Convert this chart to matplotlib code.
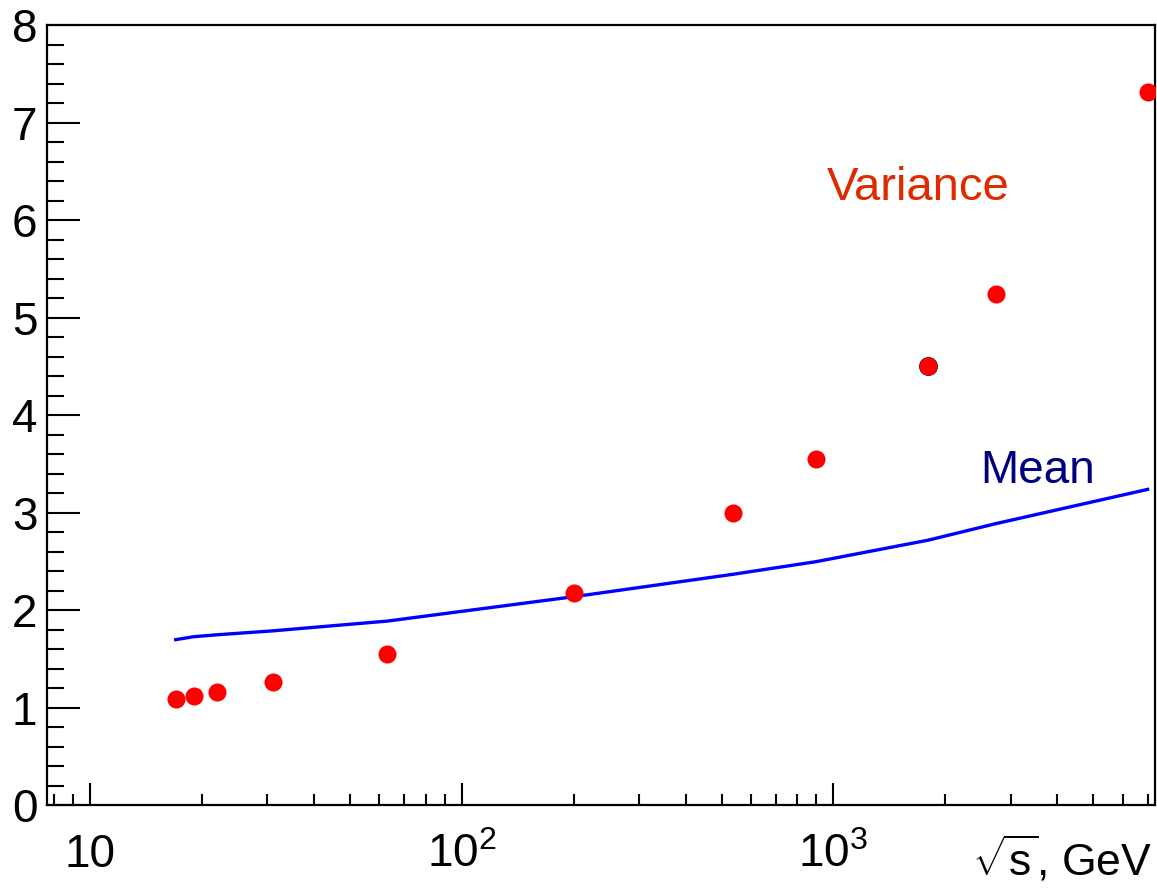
import matplotlib
matplotlib.use("Agg")
import matplotlib.pyplot as plt
import matplotlib.ticker as ticker
import numpy as np

plt.rcParams['font.family'] = ['Liberation Sans', 'DejaVu Sans']
plt.rcParams['mathtext.fontset'] = 'custom'
plt.rcParams['mathtext.rm'] = 'Liberation Sans'
plt.rcParams['mathtext.it'] = 'Liberation Sans'

# sqrt(s) in GeV
energy = [17.0, 19.0, 22.0, 31.0, 63.0, 200.0, 537.0, 900.0, 1800.0, 2740.0, 7000.0]
variance = [1.09, 1.12, 1.16, 1.27, 1.55, 2.18, 3.00, 3.55, 4.50, 5.24, 7.31]
mean = [1.70, 1.73, 1.75, 1.79, 1.89, 2.14, 2.37, 2.50, 2.72, 2.89, 3.24]

# extra dark point hidden under the 1.8 TeV marker
black_x = [1792.0]
black_y = [4.51]

x_ticks = [10, 100, 1000]
x_ticklabels = ['10', r'$\mathregular{10^{2}}$', r'$\mathregular{10^{3}}$']

fig = plt.figure(figsize=(11.57, 8.94), dpi=100)
ax = fig.add_axes([0.0406, 0.099, 0.9577, 0.873])

ax.plot(energy, mean, color='#0000ff', lw=2.4, zorder=2)
ax.plot(black_x, black_y, 'o', color='black', ms=12.5, zorder=3)
ax.plot(energy, variance, 'o', color='#ff0000', ms=13, mec='none', zorder=4)

ax.set_xscale('log')
ax.set_xlim(7.66, 7330)
ax.set_ylim(0, 8)

ax.xaxis.set_major_locator(ticker.FixedLocator(x_ticks))
ax.xaxis.set_major_formatter(ticker.FixedFormatter(x_ticklabels))
ax.xaxis.set_minor_locator(ticker.LogLocator(base=10, subs=np.arange(2, 10), numticks=20))
ax.xaxis.set_minor_formatter(ticker.NullFormatter())
ax.yaxis.set_major_locator(ticker.MultipleLocator(1))
ax.yaxis.set_minor_locator(ticker.MultipleLocator(0.2))

ax.tick_params(axis='x', which='major', direction='in', length=16, width=1.5, labelsize=33, pad=20)
ax.tick_params(axis='x', which='minor', direction='in', length=8, width=1.5)
ax.tick_params(axis='y', which='major', direction='in', length=24, width=1.5, labelsize=33, pad=7)
ax.tick_params(axis='y', which='minor', direction='in', length=12, width=1.5)

for s in ax.spines.values():
    s.set_linewidth(1.6)

ax.text(0.704, 0.776, 'Variance', transform=ax.transAxes, color='#dd2a00', fontsize=34, va='baseline', ha='left')
ax.text(0.842, 0.413, 'Mean', transform=ax.transAxes, color='#00007f', fontsize=33, va='baseline', ha='left')

fig.text(0.9957, 0.021, r'$\sqrt{\mathrm{s}}$, GeV', fontsize=32, ha='right', va='baseline')

fig.savefig('out.png', dpi=100)
